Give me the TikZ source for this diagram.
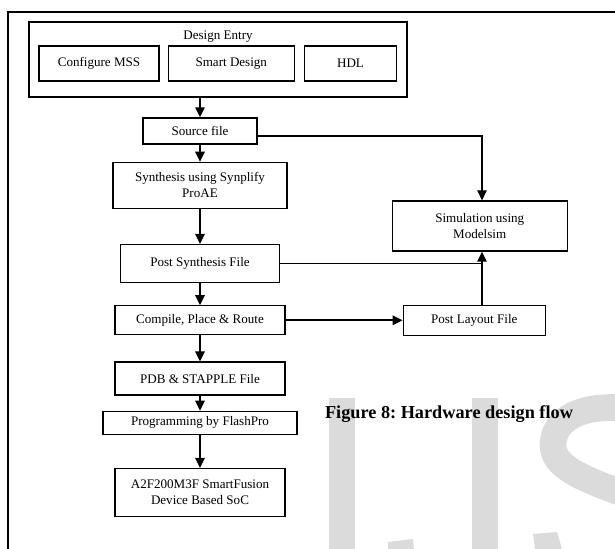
\documentclass[tikz,border=0pt]{standalone}
\usepackage{fontspec}
\setmainfont{Liberation Serif}
\usetikzlibrary{positioning, arrows.meta}
\tikzset{
>={Triangle[length=7.5pt,width=7pt]}, % solid triangle heads
box/.style={draw, line width=0.95pt, align=center, inner sep=2pt, font=\fontsize{9.8}{12}\selectfont}, % every block of the flow
flow/.style={->, line width=1.4pt}, % thick arrows of the main flow
link/.style={line width=0.9pt}, % thinner side lines
wmark/.style={fill=black!14, draw=none}, % grey letters behind the picture
}

\begin{document}
\begin{tikzpicture}[x=0.75pt, y=-0.75pt]
\useasboundingbox (0,0) rectangle (615,549);

% watermark
\begin{scope}
\clip (0,0) rectangle (615,549);
\fill[wmark] (329,398) rectangle (355,549);
\fill[wmark] (472,398) rectangle (498,549);
\fill[wmark] (388,542) -- (413,539) -- (414,549) -- (388,549) -- cycle;
\fill[wmark] (533,534) -- (557,532) -- (562,549) -- (535,549) -- cycle;
\draw[black!14, line width=20pt] (625,408) .. controls (572,404) and (553,425) .. (553,445) .. controls (553,466) and (580,478) .. (625,494);
\end{scope}

% frame
\draw[line width=1.3pt] (8,549) -- (8,12) -- (615,12);

% design entry
\node[box, minimum width=283.5pt, minimum height=56.25pt] (de) at (218,59.5) {};
\node[box, draw=none] (detitle) at (218,37) {Design Entry};
\node[box, minimum width=90pt, minimum height=26.25pt] (mss) at (99,63.5) {Configure MSS};
\node[box, minimum width=94.5pt, minimum height=26.25pt, right=6pt of mss] (smart) {Smart Design};
\node[box, minimum width=69pt, minimum height=26.25pt, right=6.75pt of smart] (hdl) {HDL};

% main column
\node[box, minimum width=85.5pt, minimum height=19.5pt] (src) at (200,131) {Source file};
\node[box, minimum width=130.5pt, minimum height=34.5pt, below=12.75pt of src] (syn) {Synthesis using Synplify\\ProAE};
\node[box, minimum width=119.25pt, minimum height=28.5pt, below=26.25pt of syn] (psyn) {Post Synthesis File};
\node[box, minimum width=127.5pt, minimum height=21.75pt, below=16.5pt of psyn] (cpr) {Compile, Place \& Route};
\node[box, minimum width=127.5pt, minimum height=24.75pt, below=19.5pt of cpr] (pdb) {PDB \& STAPPLE File};
\node[box, minimum width=145.5pt, minimum height=17.25pt, below=11.25pt of pdb] (prog) {Programming by FlashPro};
\node[box, minimum width=127.5pt, minimum height=36pt, below=24.75pt of prog] (soc) {A2F200M3F SmartFusion\\Device Based SoC};

% right side
\node[box, minimum width=106.5pt, minimum height=22.5pt, right=87.75pt of cpr] (play) {Post Layout File};
\node[box, minimum width=131.25pt, minimum height=37.5pt, above=39.75pt of play, xshift=4.1pt] (sim) {Simulation using\\Modelsim};
\coordinate (jn) at (482,261);

\node[font=\bfseries\fontsize{13.7}{16}\selectfont] (cap) at (449,414) {\frenchspacing Figure 8: Hardware design flow};

% connectors
\draw[flow] (de.south -| src) -- (src);
\draw[flow] (src) -- (syn);
\draw[flow] (syn) -- (psyn);
\draw[flow] (psyn) -- (cpr);
\draw[flow] (cpr) -- (pdb);
\draw[flow] (pdb) -- (prog);
\draw[flow] (prog) -- (soc);
\draw[link, ->] ([yshift=-3.75pt]src.east) -| (sim.north -| jn);
\draw[link] (psyn.east) -- (psyn.east -| jn);
\draw[flow] (play.north -| jn) -- (sim.south -| jn);
\draw[flow] (cpr) -- (play);
\end{tikzpicture}
\end{document}
